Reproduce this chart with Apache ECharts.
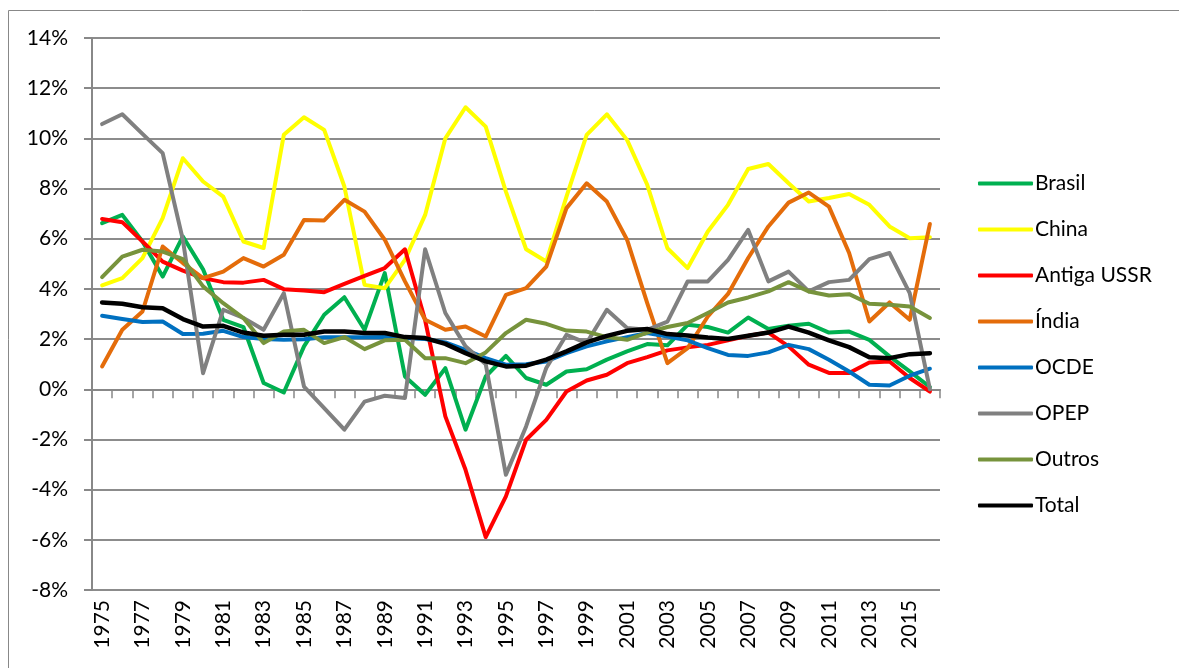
<!DOCTYPE html>
<html>
<head>
<meta charset="utf-8">
<script src="https://cdn.jsdelivr.net/npm/echarts@6/dist/echarts.min.js"></script>
<style>
  html, body { margin: 0; padding: 0; background: #fff; }
  #graph { width: 1179px; height: 668px; }
</style>
</head>
<body>
<div id="graph"></div>
<script>
// anos 1975-2016
var years = [];
for (var y = 1975; y <= 2016; y++) years.push(String(y));

// taxas de crescimento (%)
var brasil = [6.62, 6.95, 5.89, 4.49, 6.09, 4.78, 2.77, 2.48, 0.25, -0.13, 1.71, 2.97, 3.67, 2.37, 4.63,
  0.51, -0.22, 0.84, -1.61, 0.51, 1.33, 0.45, 0.18, 0.71, 0.80, 1.18, 1.51, 1.80, 1.75, 2.57,
  2.48, 2.26, 2.86, 2.40, 2.53, 2.61, 2.26, 2.30, 1.97, 1.31, 0.71, 0.09];
var china = [4.14, 4.43, 5.23, 6.82, 9.21, 8.28, 7.68, 5.89, 5.63, 10.14, 10.84, 10.34, 8.08, 4.16, 4.03,
  5.16, 6.95, 10.0, 11.24, 10.47, 7.88, 5.58, 5.09, 7.68, 10.14, 10.96, 9.94, 8.15, 5.62, 4.83,
  6.29, 7.35, 8.78, 8.98, 8.21, 7.48, 7.62, 7.78, 7.35, 6.49, 6.02, 6.06];
var ussr = [6.79, 6.66, 5.89, 5.09, 4.73, 4.43, 4.27, 4.25, 4.36, 3.99, 3.94, 3.87, 4.20, 4.52, 4.83,
  5.58, 2.75, -1.08, -3.21, -5.89, -4.27, -2.01, -1.22, -0.09, 0.35, 0.58, 1.04, 1.28, 1.55, 1.67,
  1.77, 1.95, 2.13, 2.26, 1.71, 0.98, 0.65, 0.65, 1.07, 1.11, 0.45, -0.09];
var india = [0.91, 2.37, 3.10, 5.69, 5.03, 4.43, 4.69, 5.23, 4.89, 5.36, 6.75, 6.73, 7.55, 7.08, 5.96,
  4.30, 2.77, 2.37, 2.50, 2.10, 3.76, 4.03, 4.89, 7.22, 8.21, 7.48, 5.96, 3.43, 1.04, 1.64,
  2.90, 3.80, 5.23, 6.49, 7.44, 7.84, 7.28, 5.43, 2.70, 3.46, 2.77, 6.59];
var ocde = [2.93, 2.80, 2.68, 2.70, 2.20, 2.21, 2.33, 2.08, 2.00, 1.97, 1.99, 2.07, 2.07, 2.07, 2.08,
  2.04, 2.00, 1.87, 1.57, 1.24, 0.98, 1.00, 1.11, 1.44, 1.71, 1.91, 2.08, 2.24, 2.10, 1.95,
  1.64, 1.37, 1.33, 1.47, 1.77, 1.60, 1.18, 0.71, 0.18, 0.15, 0.54, 0.82];
var opep = [10.57, 10.96, 10.18, 9.41, 5.96, 0.64, 3.17, 2.84, 2.37, 3.83, 0.11, -0.75, -1.61, -0.49, -0.26,
  -0.35, 5.58, 3.04, 1.71, 1.0, -3.41, -1.48, 0.85, 2.17, 1.84, 3.17, 2.44, 2.37, 2.70, 4.30,
  4.30, 5.16, 6.35, 4.30, 4.69, 3.90, 4.27, 4.36, 5.19, 5.43, 3.83, 0.0];
var outros = [4.47, 5.29, 5.56, 5.49, 5.19, 4.10, 3.43, 2.84, 1.84, 2.30, 2.37, 1.84, 2.08, 1.60, 1.95,
  1.97, 1.24, 1.24, 1.04, 1.47, 2.24, 2.77, 2.61, 2.34, 2.30, 2.08, 1.97, 2.26, 2.48, 2.64,
  3.04, 3.46, 3.66, 3.90, 4.27, 3.90, 3.74, 3.79, 3.41, 3.37, 3.30, 2.84];
var total = [3.46, 3.41, 3.27, 3.23, 2.80, 2.50, 2.53, 2.26, 2.13, 2.17, 2.17, 2.30, 2.30, 2.24, 2.24,
  2.08, 2.04, 1.81, 1.44, 1.11, 0.91, 0.94, 1.18, 1.51, 1.87, 2.13, 2.33, 2.40, 2.20, 2.14,
  2.06, 2.00, 2.13, 2.26, 2.50, 2.26, 1.95, 1.68, 1.28, 1.24, 1.40, 1.44];

var names = ["Brasil", "China", "Antiga USSR", "Índia", "OCDE", "OPEP", "Outros", "Total"];
var values = [brasil, china, ussr, india, ocde, opep, outros, total];
var colors = ["#00B050", "#FFFF00", "#FF0000", "#E46C0A", "#0070C0", "#808080", "#77933C", "#000000"];

var FONT = "Lato";
var myChart = echarts.init(document.getElementById('graph'));

var series = names.map(function (n, i) {
  return {
    name: n,
    type: "line",
    data: values[i],
    xAxisIndex: 0,
    symbol: "none",
    smooth: false,
    lineStyle: { width: n === "Total" ? 4.5 : 4, color: colors[i], cap: "round", join: "round" },
    itemStyle: { color: colors[i] },
    animation: false
  };
});

var option = {
  animation: false,
  color: colors,
  //moldura
  graphic: [{
    type: "rect",
    shape: { x: 8.5, y: 10.5, width: 1300, height: 800 },
    style: { fill: null, stroke: "#888", lineWidth: 1 },
    silent: true
  }],
  grid: { left: 92, right: 239, top: 38, bottom: 78 },
  legend: {
    orient: "vertical",
    left: 973,
    top: 168,
    itemWidth: 55,
    itemHeight: 4,
    itemGap: 25,
    icon: "roundRect",
    textStyle: { fontFamily: FONT, fontSize: 21, color: "#000", padding: [0, 0, 0, -3] },
    data: names
  },
  xAxis: [
    {
      // eixo no zero: linha e marcas
      type: "category",
      data: years,
      boundaryGap: true,
      position: "bottom",
      axisLine: { show: true, onZero: true, lineStyle: { color: "#888", width: 2 } },
      axisTick: { show: true, interval: 0, length: 9, lineStyle: { color: "#888", width: 1.5 } },
      axisLabel: { show: false },
      splitLine: { show: false }
    },
    {
      // rótulos em baixo
      type: "category",
      data: years,
      boundaryGap: true,
      position: "bottom",
      axisLine: { show: false, onZero: false },
      axisTick: { show: false },
      axisLabel: {
        show: true, interval: 1, rotate: 90, margin: 10,
        fontFamily: FONT, fontSize: 21, color: "#000"
      },
      splitLine: { show: false }
    }
  ],
  yAxis: {
    type: "value",
    min: -8,
    max: 14,
    interval: 2,
    axisLine: { show: true, lineStyle: { color: "#888", width: 2 } },
    axisTick: { show: true, length: 8, lineStyle: { color: "#888", width: 2 } },
    axisLabel: {
      margin: 24,
      fontFamily: FONT, fontSize: 21, color: "#000",
      formatter: function (v) { return v + "%"; }
    },
    splitLine: { show: true, lineStyle: { color: "#8c8c8c", width: 2 } }
  },
  series: series
};
myChart.setOption(option);
</script>
</body>
</html>
